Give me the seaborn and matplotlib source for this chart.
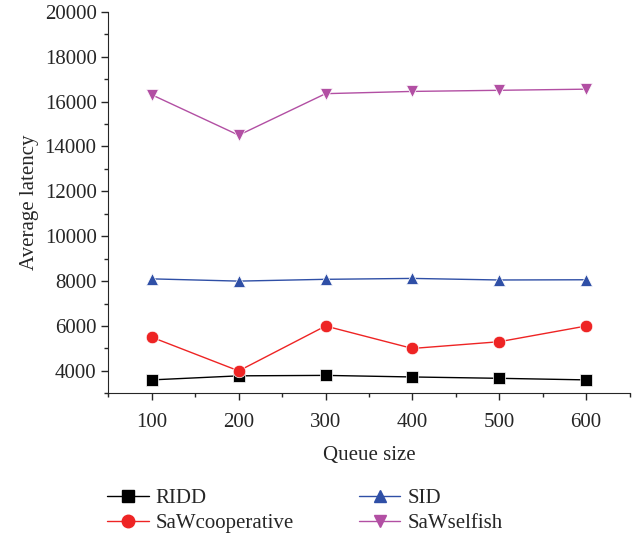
import numpy as np
import pandas as pd
import seaborn as sns
import matplotlib
matplotlib.use("Agg")
import matplotlib.pyplot as plt
from matplotlib.ticker import MultipleLocator
from matplotlib.lines import Line2D

queue_size = [100, 200, 300, 400, 500, 600]
ridd = [3600, 3780, 3800, 3730, 3670, 3600]
saw_coop = [5500, 4000, 6000, 5000, 5300, 6000]
sid = [8100, 8000, 8080, 8120, 8050, 8060]
saw_selfish = [16300, 14500, 16350, 16450, 16500, 16550]

names = ["RIDD", "SaWcooperative", "SID", "SaWselfish"]
series = [ridd, saw_coop, sid, saw_selfish]
colors = ["#000000", "#ee2424", "#2f4fa6", "#b24fa3"]
markers = ["s", "o", "^", "v"]

df = pd.DataFrame({
    "Queue size": np.tile(queue_size, len(names)),
    "Average latency": np.concatenate(series),
    "method": np.repeat(names, len(queue_size)),
})

sns.set_style("ticks")
plt.rcParams["font.family"] = ["Liberation Serif", "DejaVu Serif"]
plt.rcParams["font.size"] = 15

fig = plt.figure(figsize=(6.34, 5.33), dpi=100)
ax = fig.add_axes([0.171, 0.262, 0.822, 0.716])

sns.lineplot(data=df, x="Queue size", y="Average latency", hue="method",
             style="method", hue_order=names, style_order=names,
             palette=colors, markers=markers, dashes=False,
             markersize=9, markeredgewidth=0.5, linewidth=1.0, ax=ax,
             legend=False)

ax.set_xlim(50, 650)
ax.set_ylim(3000, 20000)
ax.xaxis.set_major_locator(MultipleLocator(100))
ax.xaxis.set_minor_locator(MultipleLocator(50))
ax.yaxis.set_minor_locator(MultipleLocator(1000))
ax.set_yticks(np.arange(4000, 20001, 2000))
ax.tick_params(which="major", length=5, width=1, labelsize=15, direction="out")
ax.tick_params(which="minor", length=3, width=1, direction="out")
ax.tick_params(axis="x", which="major", pad=9)
ax.set_xlabel("Queue size", fontsize=15, labelpad=10)
ax.set_ylabel("Average latency", fontsize=15, labelpad=4)
sns.despine(ax=ax)

# legend below the axes, two columns, no frame
handles = [Line2D([], [], color=c, marker=m, markersize=9, linewidth=1.0)
           for c, m in zip(colors, markers)]
fig.legend(handles, names, ncol=2, loc="upper left",
           bbox_to_anchor=(0.139, 0.118), frameon=False, fontsize=15,
           handlelength=2.0, handletextpad=0.35, columnspacing=3.1,
           labelspacing=0.25)

fig.savefig("out.png", dpi=100)
